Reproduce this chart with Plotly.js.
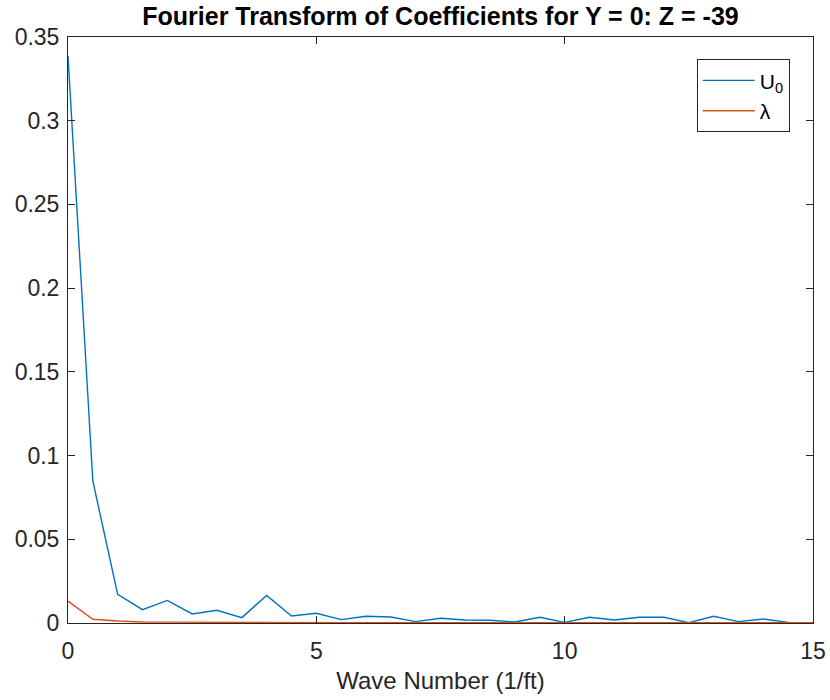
<!DOCTYPE html>
<html>
<head>
<meta charset="utf-8">
<script src="https://cdn.plot.ly/plotly-3.0.1.min.js"></script>
<style>
html,body{margin:0;padding:0;background:#fff;}
#chart{width:830px;height:700px;}
</style>
</head>
<body>
<div id="chart"></div>
<script>
const waveNumber = [0, 0.5, 1, 1.5, 2, 2.5, 3, 3.5, 4, 4.5, 5, 5.5, 6, 6.5, 7, 7.5, 8, 8.5, 9, 9.5, 10, 10.5, 11, 11.5, 12, 12.5, 13, 13.5, 14, 14.5, 15];
const u0Values = [0.3387, 0.0848, 0.0171, 0.0080, 0.0135, 0.0054, 0.0076, 0.0032, 0.0165, 0.0042, 0.0058, 0.0020, 0.0040, 0.0036, 0.0008, 0.0028, 0.0018, 0.0016, 0.0006, 0.0034, 0.0004, 0.0034, 0.0018, 0.0034, 0.0034, 0.0002, 0.0040, 0.0008, 0.0024, 0.0004, 0.0002];
const lambdaValues = [0.0131, 0.0022, 0.0012, 0.0006, 0.0005, 0.0004, 0.0003, 0.0003, 0.0005, 0.0003, 0.0002, 0.0002, 0.0002, 0.0002, 0.0002, 0.0002, 0.0002, 0.0002, 0.0002, 0.0002, 0.0002, 0.0002, 0.0002, 0.0002, 0.0002, 0.0002, 0.0002, 0.0002, 0.0002, 0.0002, 0.0002];
const xTickVals = [0, 5, 10, 15];
const xTickText = ['0', '5', '10', '15'];
const yTickVals = [0, 0.05, 0.1, 0.15, 0.2, 0.25, 0.3, 0.35];
const yTickText = ['0', '0.05', '0.1', '0.15', '0.2', '0.25', '0.3', '0.35'];
const seriesNames = ['U<sub>0</sub>', 'λ'];
const titleText = '<b>Fourier Transform of Coefficients for Y = 0: Z = -39</b>';
const xTitleText = 'Wave Number (1/ft)';

const FONT = 'Arial, "Liberation Sans", Helvetica, sans-serif';
const AX = '#262626';

const traces = [
  {x: waveNumber, y: u0Values, type: 'scatter', mode: 'lines', name: seriesNames[0],
   line: {color: '#0072BD', width: 1.4}},
  {x: waveNumber, y: lambdaValues, type: 'scatter', mode: 'lines', name: seriesNames[1],
   line: {color: '#D95319', width: 1.4}}
];

const axisCommon = {
  showgrid: false, zeroline: false, showline: true, linecolor: AX, linewidth: 1,
  mirror: 'ticks', ticks: 'inside', ticklen: 7, tickwidth: 1, tickcolor: AX,
  tickfont: {family: FONT, size: 23, color: AX}
};

const layout = {
  width: 830, height: 700,
  margin: {l: 68, r: 17, t: 37, b: 77},
  paper_bgcolor: '#fff', plot_bgcolor: '#fff',
  font: {family: FONT, color: AX},
  title: {text: titleText, font: {family: FONT, size: 25, color: '#000'},
          x: 0.5, xanchor: 'center', xref: 'paper', y: 0.977, yanchor: 'middle', yref: 'container'},
  xaxis: Object.assign({}, axisCommon, {
    range: [0, 15], tickvals: xTickVals, ticktext: xTickText, ticklabelstandoff: 7,
    title: {text: xTitleText, font: {family: FONT, size: 24, color: AX}, standoff: 9}
  }),
  yaxis: Object.assign({}, axisCommon, {
    range: [0, 0.35], tickvals: yTickVals, ticktext: yTickText, ticklabelstandoff: 3
  }),
  showlegend: true,
  legend: {x: 0.844, y: 0.962, xanchor: 'left', yanchor: 'top',
           bgcolor: '#fff', bordercolor: AX, borderwidth: 1,
           font: {family: FONT, size: 21, color: '#000'}, itemwidth: 52, tracegroupgap: 4}
};

Plotly.newPlot('chart', traces, layout, {displayModeBar: false, staticPlot: true});
</script>
</body>
</html>
